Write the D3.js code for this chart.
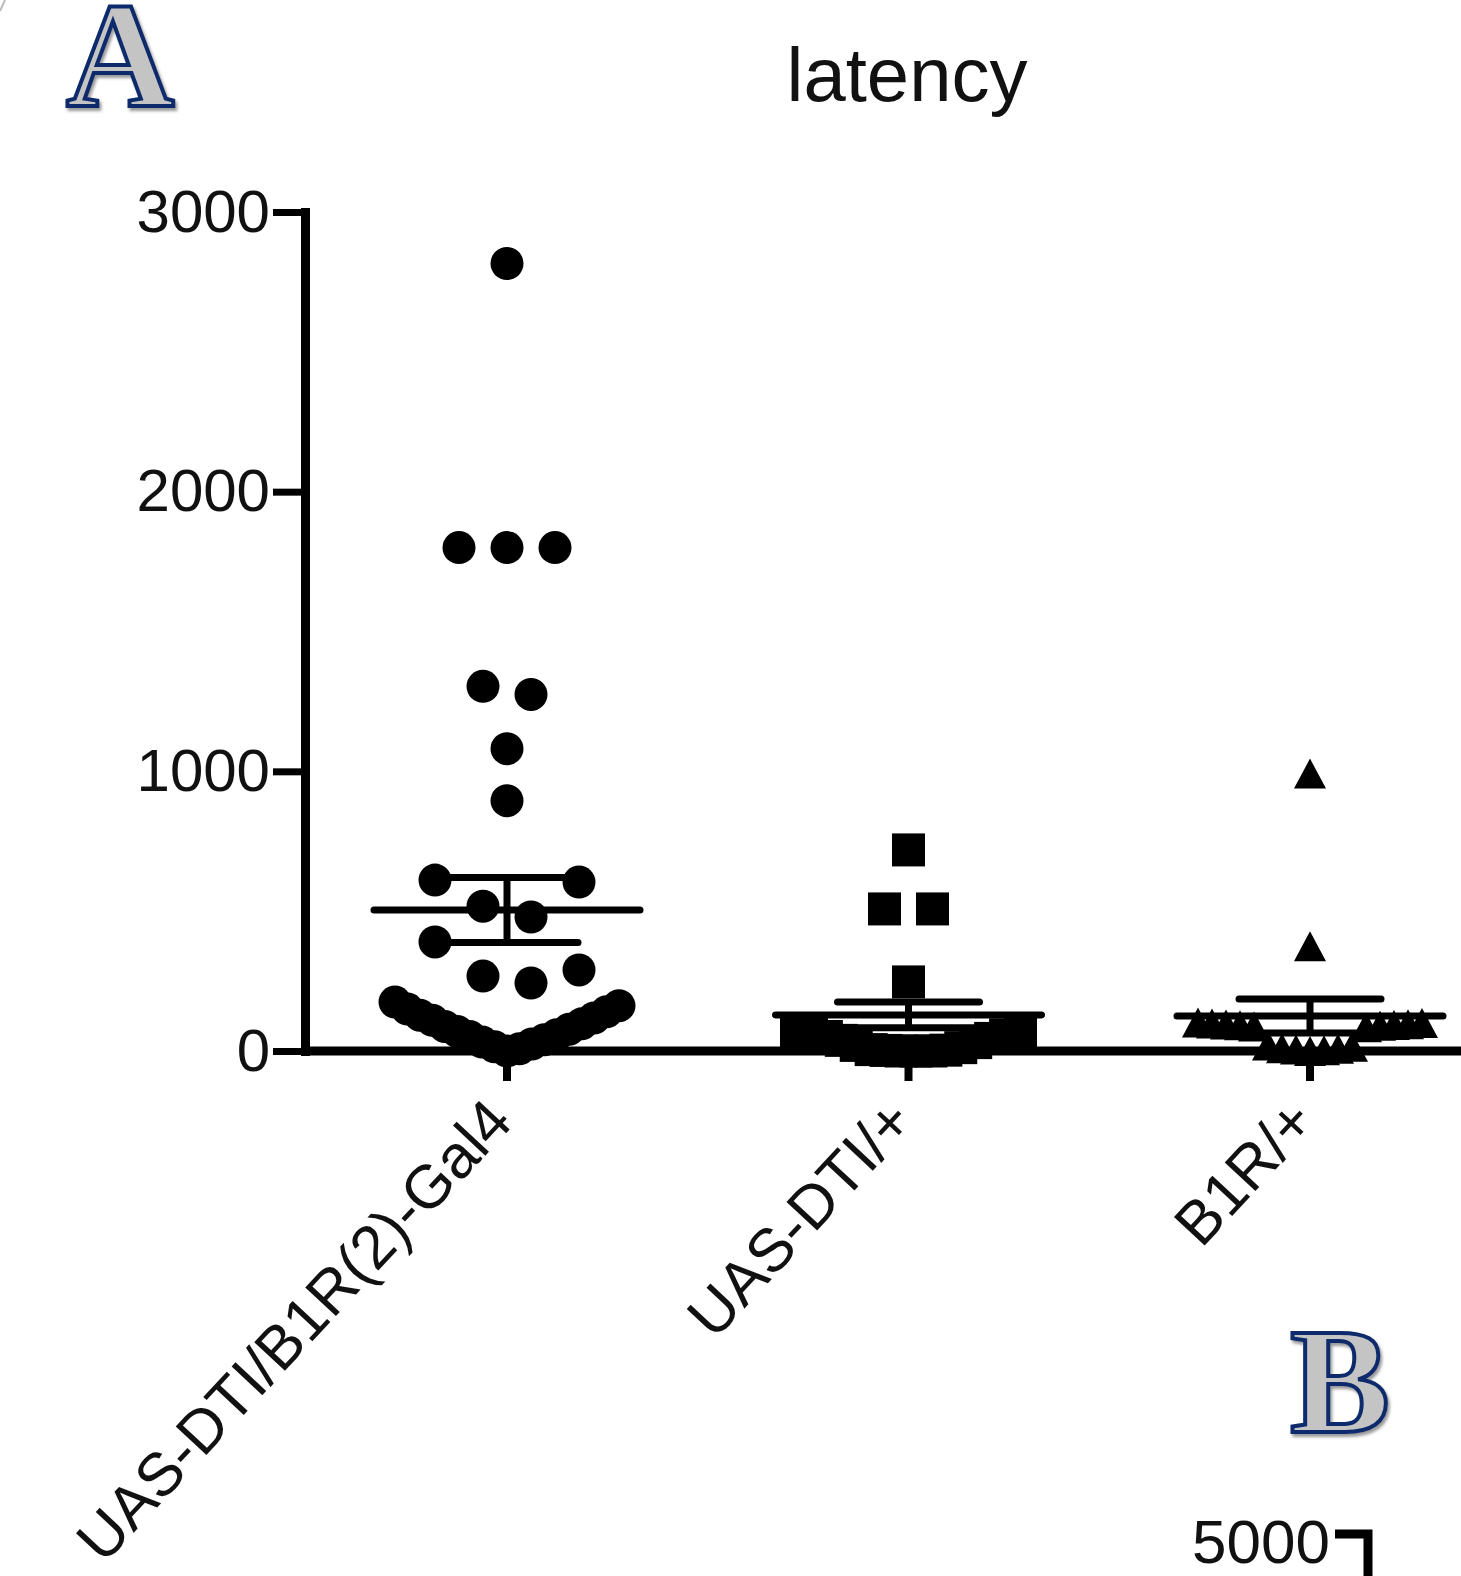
<!DOCTYPE html>
<html>
<head>
<meta charset="utf-8">
<script src="https://cdn.jsdelivr.net/npm/d3@7"></script>
<style>
  body { margin: 0; background: #fff; }
  svg { display: block; }
</style>
</head>
<body>
<div id="container"></div>
<script>
// groups on the x axis
var categories = ["UAS-DTI/B1R(2)-Gal4", "UAS-DTI/+", "B1R/+"];
// latency of each fly
var gal4Latency = [2816, 1800, 1800, 1800, 1304, 1275, 1081, 895, 611, 604, 518, 479, 390, 290, 268, 243,
    175, 162, 150, 140, 128, 118, 110, 97, 88, 78, 70, 58, 52, 40, 32, 25, 15, 8, 0];
var dtiLatency = [719, 508, 508, 247, 72, 68, 63, 58, 52, 45, 38, 30, 20, 12, 5, 3, 2, 0, 0, 0];
var b1rLatency = [992, 375, 102, 100, 98, 96, 95, 93, 92, 90, 88, 85, 20, 15, 10, 8, 5, 3, 0];
// mean and SEM bars
var meanLatency = [504, 129, 125];
var semLatency = [116, 46, 61];
var yTicks = [0, 1000, 2000, 3000];

var W = 1461, H = 1576;
var font = "'Liberation Sans', Arial, Helvetica, sans-serif";

var svg = d3.select("#container").append("svg")
    .attr("width", W).attr("height", H);

// shadow for the panel letters
var defs = svg.append("defs");
defs.append("filter").attr("id", "shadow")
    .attr("x", "-20%").attr("y", "-20%").attr("width", "140%").attr("height", "140%")
  .append("feDropShadow")
    .attr("dx", 2).attr("dy", 3).attr("stdDeviation", 1.5)
    .attr("flood-color", "#555").attr("flood-opacity", 0.6);

var x = d3.scalePoint().domain(categories).range([507, 1310]);
var y = d3.scaleLinear().domain([0, 3000]).range([1051, 212]);
var axisX = 305;

// title
svg.append("text")
    .attr("x", 907).attr("y", 101)
    .attr("text-anchor", "middle")
    .attr("font-family", font).attr("font-size", "76px")
    .attr("fill", "#111")
    .text("latency");

// y axis
var yAxis = svg.append("g")
    .attr("transform", "translate(" + axisX + ",0)")
    .call(d3.axisLeft(y).tickValues(yTicks).tickSize(32).tickSizeOuter(0).tickPadding(3)
        .tickFormat(d3.format("d")));
yAxis.select(".domain").attr("stroke-width", 9).attr("stroke-linecap", "square");
yAxis.selectAll(".tick line").attr("stroke-width", 7);
yAxis.selectAll(".tick text")
    .attr("font-family", font).attr("font-size", "60px").attr("fill", "#111");

// x axis line runs off the right edge
svg.append("line")
    .attr("x1", axisX).attr("x2", W + 10)
    .attr("y1", y(0)).attr("y2", y(0))
    .attr("stroke", "#000").attr("stroke-width", 9);

svg.selectAll(".xtick")
    .data(categories)
    .enter()
    .append("line")
        .attr("x1", function(d){ return x(d); })
        .attr("x2", function(d){ return x(d); })
        .attr("y1", y(0))
        .attr("y2", y(0) + 30)
        .attr("stroke", "#000").attr("stroke-width", 8);

svg.selectAll(".xlabel")
    .data(categories)
    .enter()
    .append("text")
        .attr("transform", function(d){ return "translate(" + (x(d) + 8) + ",1124) rotate(-47)"; })
        .attr("text-anchor", "end")
        .attr("font-family", font).attr("font-size", "61px")
        .attr("fill", "#111")
        .text(function(d){ return d; });

// scatter layout: points are binned by value and spread out from the centre
var binWidth = 210, slotGap = 48, maxSpread = 224;
function swarm(values, cx) {
    var pts = values.map(function(v){ return {v: v, x: cx, y: y(v)}; });
    d3.groups(pts, function(d){ return Math.floor(d.v / binWidth); }).forEach(function(g) {
        var b = g[1].sort(function(a, c){ return a.v - c.v; });
        var n = b.length;
        var s = n > 1 ? Math.min(slotGap, maxSpread / (n - 1)) : 0;
        b.forEach(function(p, k) {
            var off;
            if (n % 2) {
                off = k === 0 ? 0 : (k % 2 ? 1 : -1) * Math.ceil(k / 2);
            } else {
                off = (k % 2 ? -1 : 1) * (Math.floor(k / 2) + 0.5);
            }
            p.x = cx + off * s;
        });
    });
    return pts;
}

var marks = svg.append("g");

marks.selectAll(".dot")
    .data(swarm(gal4Latency, x(categories[0])))
    .enter()
    .append("circle")
        .attr("cx", function(d){ return d.x; })
        .attr("cy", function(d){ return d.y; })
        .attr("r", 16.5)
        .attr("fill", "#000");

marks.selectAll(".sq")
    .data(swarm(dtiLatency, x(categories[1])))
    .enter()
    .append("rect")
        .attr("x", function(d){ return d.x - 16.5; })
        .attr("y", function(d){ return d.y - 16.5; })
        .attr("width", 33).attr("height", 33)
        .attr("fill", "#000");

marks.selectAll(".tri")
    .data(swarm(b1rLatency, x(categories[2])))
    .enter()
    .append("path")
        .attr("d", function(d){
            return "M" + d.x + "," + (d.y - 15) +
                   "L" + (d.x + 16) + "," + (d.y + 15) +
                   "L" + (d.x - 16) + "," + (d.y + 15) + "Z";
        })
        .attr("fill", "#000");

// mean +/- SEM
var bars = svg.append("g").attr("stroke", "#000").attr("stroke-width", 7).attr("stroke-linecap", "round");
categories.forEach(function(c, i) {
    var cx = x(c), m = meanLatency[i], e = semLatency[i];
    bars.append("line").attr("x1", cx - 133).attr("x2", cx + 133).attr("y1", y(m)).attr("y2", y(m));
    bars.append("line").attr("x1", cx - 71).attr("x2", cx + 71).attr("y1", y(m + e)).attr("y2", y(m + e));
    bars.append("line").attr("x1", cx - 71).attr("x2", cx + 71).attr("y1", y(m - e)).attr("y2", y(m - e));
    bars.append("line").attr("x1", cx).attr("x2", cx).attr("y1", y(m + e)).attr("y2", y(m - e))
        .attr("stroke-linecap", "butt");
});

// panel letters
[["A", 66, 106], ["B", 1290, 1432]].forEach(function(p) {
    svg.append("text")
        .attr("x", p[1]).attr("y", p[2])
        .attr("font-family", "'Liberation Serif', 'Times New Roman', serif")
        .attr("font-weight", "bold")
        .attr("font-size", "150px")
        .attr("fill", "#c4c4c4")
        .attr("stroke", "#0d2a6c").attr("stroke-width", 4)
        .attr("filter", "url(#shadow)")
        .text(p[0]);
});

// start of panel B's axis at the bottom edge
svg.append("text")
    .attr("x", 1330).attr("y", 1563)
    .attr("text-anchor", "end")
    .attr("font-family", font).attr("font-size", "62px")
    .attr("fill", "#111")
    .text("5000");
svg.append("path")
    .attr("d", "M1335,1534H1368V" + (H + 10))
    .attr("fill", "none").attr("stroke", "#000").attr("stroke-width", 9);

// faint page corner top-left
svg.append("path")
    .attr("d", "M0,11L5,0")
    .attr("stroke", "#bbb").attr("stroke-width", 2);
</script>
</body>
</html>
